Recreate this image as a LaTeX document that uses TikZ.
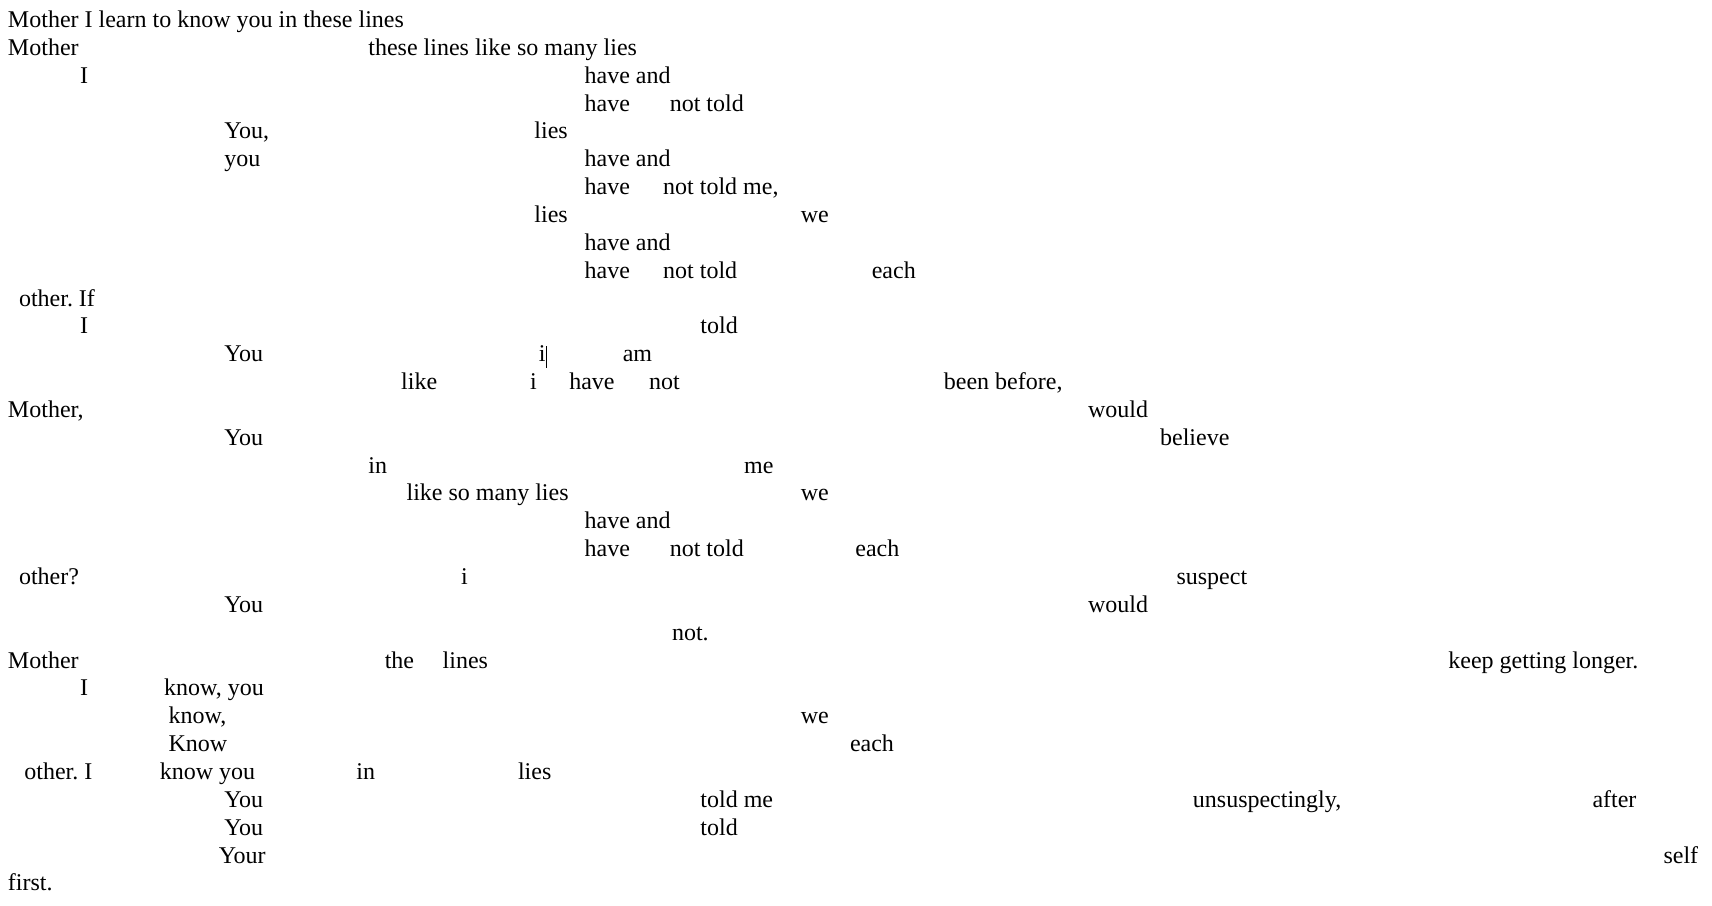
\documentclass[tikz,border=0pt]{standalone}
\usepackage{fontspec}
\setmainfont{Liberation Serif}
\usepackage{tikz}
\frenchspacing

\tikzset{word/.style={anchor=base west, inner sep=0pt, font=\fontsize{12}{14}\selectfont}}
\def\lh{27.85}

\begin{document}
\begin{tikzpicture}[x=0.5pt,y=-0.5pt]
  \useasboundingbox (0,0) rectangle (1712,905);
  % rows 0--9
  \node[word] (r0a) at (7.6,27.5) {Mother I learn to know you in these lines};
  \node[word] (r1a) at (7.6,27.5+\lh*1) {Mother};
  \node[word] (r1b) at (368,27.5+\lh*1) {these lines like so many lies};
  \node[word] (r2a) at (79.7,27.5+\lh*2) {I};
  \node[word] (r2b) at (584.2,27.5+\lh*2) {have and};
  \node[word] (r3a) at (584.2,27.5+\lh*3) {have};
  \node[word] (r3b) at (669.4,27.5+\lh*3) {not told};
  \node[word] (r4a) at (223.9,27.5+\lh*4) {You,};
  \node[word] (r4b) at (534,27.5+\lh*4) {lies};
  \node[word] (r5a) at (223.9,27.5+\lh*5) {you};
  \node[word] (r5b) at (584.2,27.5+\lh*5) {have and};
  \node[word] (r6a) at (584.2,27.5+\lh*6) {have};
  \node[word] (r6b) at (662.8,27.5+\lh*6) {not told me,};
  \node[word] (r7a) at (534,27.5+\lh*7) {lies};
  \node[word] (r7b) at (800.4,27.5+\lh*7) {we};
  \node[word] (r8a) at (584.2,27.5+\lh*8) {have and};
  \node[word] (r9a) at (584.2,27.5+\lh*9) {have};
  \node[word] (r9b) at (662.8,27.5+\lh*9) {not told};
  \node[word] (r9c) at (871.4,27.5+\lh*9) {each};
  % rows 10--22
  \node[word] (r10a) at (18.6,27.5+\lh*10) {other. If};
  \node[word] (r11a) at (79.7,27.5+\lh*11) {I};
  \node[word] (r11b) at (700,27.5+\lh*11) {told};
  \node[word] (r12a) at (223.9,27.5+\lh*12) {You};
  \node[word] (r12b) at (538.4,27.5+\lh*12) {i};
  \node[word] (r12c) at (622.4,27.5+\lh*12) {am};
  \draw[line width=0.5pt] (546,346) -- (546,368);
  \node[word] (r13a) at (400.8,27.5+\lh*13) {like};
  \node[word] (r13b) at (529.6,27.5+\lh*13) {i};
  \node[word] (r13c) at (568.9,27.5+\lh*13) {have};
  \node[word] (r13d) at (648.6,27.5+\lh*13) {not};
  \node[word] (r13e) at (943.5,27.5+\lh*13) {been before,};
  \node[word] (r14a) at (7.6,27.5+\lh*14) {Mother,};
  \node[word] (r14b) at (1087.6,27.5+\lh*14) {would};
  \node[word] (r15a) at (223.9,27.5+\lh*15) {You};
  \node[word] (r15b) at (1159.7,27.5+\lh*15) {believe};
  \node[word] (r16a) at (368,27.5+\lh*16) {in};
  \node[word] (r16b) at (743.7,27.5+\lh*16) {me};
  \node[word] (r17a) at (406.2,27.5+\lh*17) {like so many lies};
  \node[word] (r17b) at (800.4,27.5+\lh*17) {we};
  \node[word] (r18a) at (584.2,27.5+\lh*18) {have and};
  \node[word] (r19a) at (584.2,27.5+\lh*19) {have};
  \node[word] (r19b) at (669.4,27.5+\lh*19) {not told};
  \node[word] (r19c) at (855,27.5+\lh*19) {each};
  \node[word] (r20a) at (18.6,27.5+\lh*20) {other?};
  \node[word] (r20b) at (460.8,27.5+\lh*20) {i};
  \node[word] (r20c) at (1176.1,27.5+\lh*20) {suspect};
  \node[word] (r21a) at (223.9,27.5+\lh*21) {You};
  \node[word] (r21b) at (1087.6,27.5+\lh*21) {would};
  \node[word] (r22a) at (671.6,27.5+\lh*22) {not.};
  % rows 23--31
  \node[word] (r23a) at (7.6,27.5+\lh*23) {Mother};
  \node[word] (r23b) at (384.4,27.5+\lh*23) {the};
  \node[word] (r23c) at (442.3,27.5+\lh*23) {lines};
  \node[word] (r23d) at (1448,27.5+\lh*23) {keep getting longer.};
  \node[word] (r24a) at (79.7,27.5+\lh*24) {I};
  \node[word] (r24b) at (163.8,27.5+\lh*24) {know, you};
  \node[word] (r25a) at (168.2,27.5+\lh*25) {know,};
  \node[word] (r25b) at (800.4,27.5+\lh*25) {we};
  \node[word] (r26a) at (168.2,27.5+\lh*26) {Know};
  \node[word] (r26b) at (849.6,27.5+\lh*26) {each};
  \node[word] (r27a) at (24,27.5+\lh*27) {other. I};
  \node[word] (r27b) at (159.4,27.5+\lh*27) {know you};
  \node[word] (r27c) at (356,27.5+\lh*27) {in};
  \node[word] (r27d) at (517.6,27.5+\lh*27) {lies};
  \node[word] (r28a) at (223.9,27.5+\lh*28) {You};
  \node[word] (r28b) at (700,27.5+\lh*28) {told me};
  \node[word] (r28c) at (1192.5,27.5+\lh*28) {unsuspectingly,};
  \node[word] (r28d) at (1592.1,27.5+\lh*28) {after};
  \node[word] (r29a) at (223.9,27.5+\lh*29) {You};
  \node[word] (r29b) at (700,27.5+\lh*29) {told};
  \node[word] (r30a) at (218.4,27.5+\lh*30) {Your};
  \node[word] (r30b) at (1663.1,27.5+\lh*30) {self};
  \node[word] (r31a) at (7.6,27.5+\lh*31) {first.};
\end{tikzpicture}
\end{document}
